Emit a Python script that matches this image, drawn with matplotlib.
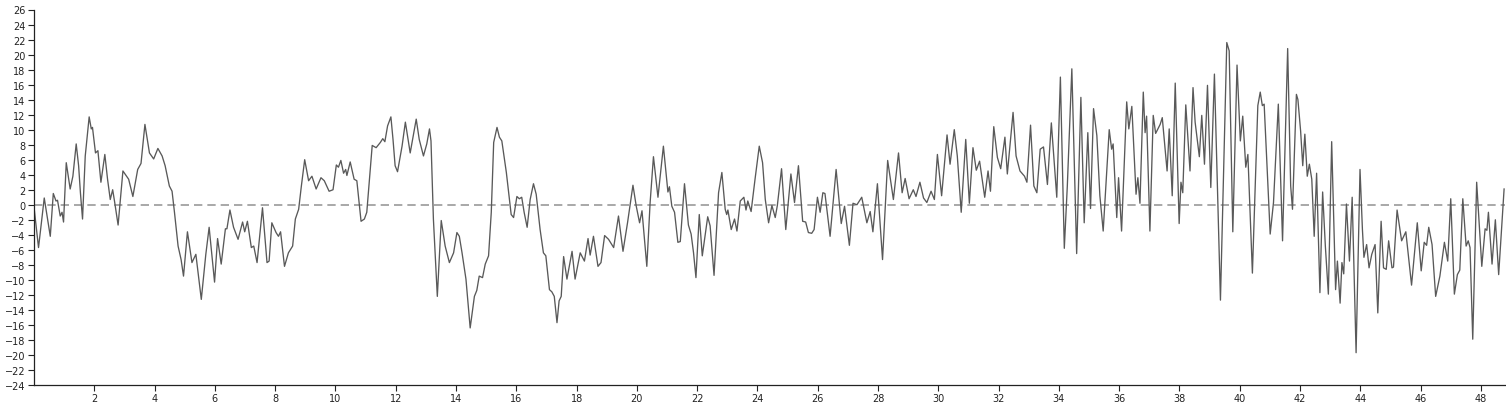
import matplotlib
matplotlib.use("Agg")
import matplotlib.pyplot as plt

# values (peaks / troughs of the trace)
xs = [0.00, 0.15, 0.34, 0.54, 0.64, 0.73, 0.78, 0.87, 0.93, 0.98,
      1.07, 1.20, 1.29, 1.40, 1.48, 1.54, 1.61, 1.70, 1.83, 1.90, 1.94,
      2.04, 2.12, 2.22, 2.35, 2.44, 2.53, 2.61, 2.67, 2.79, 2.95,
      3.14, 3.28, 3.44, 3.55, 3.68, 3.83, 3.97, 4.11, 4.25, 4.35, 4.49, 4.58, 4.66, 4.78, 4.88, 4.96,
      5.09, 5.24, 5.37, 5.55, 5.70, 5.81, 5.99, 6.09, 6.21, 6.35, 6.40, 6.50, 6.62, 6.77, 6.92, 6.99,
      7.08, 7.21, 7.29, 7.40, 7.58, 7.73, 7.80, 7.89, 8.03, 8.11, 8.18, 8.31, 8.44, 8.58, 8.67, 8.78, 8.87, 8.98,
      9.11, 9.22, 9.36, 9.52, 9.63, 9.79, 9.92, 10.03, 10.10, 10.18, 10.27, 10.34, 10.38, 10.49, 10.62, 10.71, 10.85, 10.96,
      11.04, 11.22, 11.35, 11.49, 11.57, 11.64, 11.73, 11.84, 11.91, 11.98, 12.06, 12.21, 12.32, 12.48, 12.68, 12.78, 12.92,
      13.03, 13.12, 13.17, 13.25, 13.38, 13.51, 13.64, 13.78, 13.92, 14.03, 14.11, 14.20, 14.33, 14.47, 14.61, 14.69, 14.77, 14.88, 14.97,
      15.08, 15.17, 15.25, 15.36, 15.44, 15.52, 15.67, 15.76, 15.83, 15.91, 16.02, 16.10, 16.18, 16.26, 16.36, 16.46, 16.57, 16.66, 16.79, 16.90, 16.98,
      17.10, 17.18, 17.26, 17.35, 17.42, 17.49, 17.57, 17.68, 17.85, 17.95, 18.12, 18.26, 18.38, 18.45, 18.56, 18.71, 18.81, 18.93,
      19.06, 19.23, 19.39, 19.54, 19.69, 19.87, 19.98, 20.09, 20.17, 20.33, 20.44, 20.55, 20.70, 20.88,
      21.03, 21.08, 21.16, 21.25, 21.36, 21.44, 21.58, 21.71, 21.80, 21.88, 21.96, 22.07, 22.17, 22.35, 22.43, 22.56, 22.71, 22.82, 22.93, 22.98,
      23.02, 23.13, 23.24, 23.32, 23.43, 23.55, 23.62, 23.68, 23.79, 23.92, 24.06, 24.17, 24.26, 24.37, 24.48, 24.59, 24.66, 24.80, 24.94,
      25.11, 25.23, 25.36, 25.50, 25.60, 25.69, 25.80, 25.88, 25.99, 26.08, 26.17, 26.24, 26.41, 26.61, 26.78, 26.89,
      27.05, 27.17, 27.30, 27.46, 27.63, 27.74, 27.83, 27.98, 28.15, 28.32, 28.51, 28.68, 28.80, 28.90,
      29.03, 29.17, 29.26, 29.39, 29.51, 29.62, 29.76, 29.87, 29.97, 30.11, 30.29, 30.39, 30.53, 30.63, 30.76, 30.91,
      31.03, 31.15, 31.26, 31.37, 31.54, 31.65, 31.73, 31.84, 31.96, 32.07, 32.21, 32.29, 32.48, 32.58, 32.71, 32.86, 32.94,
      33.06, 33.17, 33.27, 33.38, 33.49, 33.62, 33.75, 33.93, 34.05, 34.18, 34.28, 34.43, 34.59, 34.73, 34.84, 34.96,
      35.05, 35.15, 35.26, 35.36, 35.47, 35.67, 35.75, 35.80, 35.92, 35.98, 36.08, 36.25, 36.32, 36.42, 36.56, 36.62, 36.69, 36.80, 36.86, 36.91,
      37.02, 37.13, 37.21, 37.36, 37.43, 37.59, 37.66, 37.76, 37.86, 37.99, 38.05, 38.11, 38.21, 38.35, 38.45, 38.52, 38.66, 38.74, 38.83, 38.93,
      39.04, 39.16, 39.36, 39.57, 39.65, 39.77, 39.91, 40.02, 40.10, 40.20, 40.27, 40.42, 40.60, 40.68, 40.75, 40.81,
      41.01, 41.12, 41.28, 41.42, 41.59, 41.69, 41.75, 41.88, 41.93, 42.02, 42.09, 42.16, 42.24, 42.31, 42.39, 42.47, 42.55, 42.66, 42.75, 42.84, 42.94,
      43.05, 43.18, 43.24, 43.33, 43.39, 43.45, 43.54, 43.64, 43.73, 43.86, 43.99, 44.07, 44.12, 44.21, 44.29, 44.38, 44.49, 44.58, 44.69, 44.77, 44.86, 44.94,
      45.05, 45.10, 45.22, 45.37, 45.51, 45.70, 45.89, 46.02, 46.12, 46.20, 46.27, 46.38, 46.50, 46.64, 46.79, 46.90,
      47.00, 47.12, 47.22, 47.30, 47.40, 47.51, 47.58, 47.64, 47.73, 47.86, 48.03, 48.14, 48.20, 48.25, 48.37, 48.48, 48.59, 48.77]

ys = [-0.3, -5.7, 0.9, -4.2, 1.5, 0.5, 0.6, -1.5, -1.0, -2.3,
      5.6, 2.1, 3.8, 8.1, 5.2, 1.6, -1.9, 6.5, 11.7, 10.1, 10.3,
      6.9, 7.2, 3.0, 6.7, 3.4, 0.7, 2.0, 0.5, -2.7, 4.5,
      3.4, 1.1, 4.7, 5.5, 10.7, 6.9, 6.1, 7.5, 6.5, 5.2, 2.5, 1.8, -1.0, -5.5, -7.3, -9.5,
      -3.6, -7.7, -6.6, -12.6, -6.6, -3.0, -10.3, -4.5, -7.9, -3.2, -3.2, -0.7, -3.0, -4.6, -2.3, -3.6,
      -2.2, -5.7, -5.5, -7.7, -0.4, -7.7, -7.5, -2.4, -3.7, -4.2, -3.6, -8.2, -6.4, -5.5, -1.9, -0.6, 2.5, 6.0,
      3.2, 3.8, 2.1, 3.6, 3.2, 1.8, 2.0, 5.3, 5.0, 5.9, 4.2, 4.7, 3.9, 5.7, 3.4, 3.2, -2.2, -1.9,
      -1.0, 7.9, 7.6, 8.3, 8.8, 8.4, 10.5, 11.7, 8.7, 5.2, 4.4, 7.8, 11.0, 6.9, 11.4, 8.7, 6.5,
      8.1, 10.1, 8.5, -1.9, -12.2, -2.1, -5.5, -7.7, -6.4, -3.7, -4.2, -6.4, -9.9, -16.4, -12.2, -11.4, -9.5, -9.7, -7.9,
      -6.8, -1.0, 8.3, 10.3, 9.0, 8.5, 4.3, 1.2, -1.3, -1.7, 1.1, 0.8, 1.0, -1.0, -3.0, 0.7, 2.8, 1.4, -3.3, -6.4, -6.8,
      -11.3, -11.6, -12.2, -15.7, -12.8, -12.2, -6.9, -9.9, -6.2, -9.9, -6.4, -7.5, -4.5, -6.7, -4.2, -8.2, -7.7, -4.1,
      -4.6, -5.7, -1.5, -6.2, -2.4, 2.6, -0.2, -2.4, -0.8, -8.2, 0.3, 6.4, 1.0, 7.8,
      1.7, 2.4, -0.2, -1.0, -5.0, -4.9, 2.8, -2.7, -3.9, -6.4, -9.7, -1.3, -6.8, -1.6, -2.8, -9.4, 1.6, 4.3, -0.6, -1.3,
      -0.7, -3.3, -1.9, -3.5, 0.5, 1.0, -0.7, 0.5, -0.9, 3.4, 7.8, 5.6, 0.7, -2.4, -0.1, -1.7, -0.1, 4.8, -3.3,
      4.1, 0.3, 5.2, -2.2, -2.3, -3.7, -3.8, -3.3, 1.0, -1.0, 1.6, 1.5, -4.2, 4.7, -2.5, -0.2,
      -5.4, 0.2, 0.0, 1.0, -2.4, -0.9, -3.6, 2.8, -7.3, 5.9, 0.7, 6.9, 1.6, 3.5,
      0.8, 2.0, 1.1, 3.0, 0.9, 0.3, 1.8, 0.7, 6.7, 1.2, 9.3, 5.4, 10.0, 6.5, -1.0, 8.7,
      0.2, 7.6, 4.6, 5.8, 1.0, 4.5, 1.8, 10.4, 6.3, 4.8, 9.0, 4.1, 12.3, 6.5, 4.5, 3.8, 3.0,
      10.6, 2.5, 1.6, 7.4, 7.7, 2.7, 10.9, 1.0, 17.0, -5.8, 2.5, 18.1, -6.5, 14.3, -2.4, 9.6,
      -0.5, 12.8, 9.2, 1.2, -3.5, 10.0, 7.4, 8.1, -1.7, 3.6, -3.5, 13.7, 10.1, 13.1, 1.4, 3.6, 0.2, 15.0, 9.6, 11.8,
      -3.5, 11.9, 9.5, 10.7, 11.6, 4.5, 10.1, 1.2, 16.2, -2.5, 3.0, 1.6, 13.3, 4.5, 15.6, 11.0, 6.4, 11.9, 5.4, 15.9,
      2.3, 17.4, -12.7, 21.6, 20.5, -3.6, 18.6, 8.5, 11.8, 5.0, 6.7, -9.1, 13.2, 15.0, 13.2, 13.4,
      -3.9, 0.3, 13.4, -4.8, 20.8, 2.5, -0.6, 14.7, 14.0, 9.8, 5.2, 9.4, 3.8, 5.4, 3.4, -4.2, 4.2, -11.7, 1.7, -5.5, -11.9,
      8.4, -11.3, -7.5, -13.1, -7.7, -9.2, 0.1, -7.5, 1.0, -19.7, 4.7, -3.3, -7.0, -5.3, -8.4, -6.6, -5.3, -14.4, -2.2, -8.4, -8.6, -4.8,
      -8.4, -8.3, -0.7, -4.8, -3.6, -10.7, -2.4, -8.8, -5.0, -5.4, -3.0, -5.3, -12.2, -9.5, -5.0, -7.5,
      0.8, -11.9, -9.3, -8.7, 0.8, -5.5, -4.8, -5.7, -17.9, 3.0, -8.2, -3.2, -3.4, -1.0, -7.9, -2.0, -9.3, 2.1]

yticks = list(range(-24, 28, 2))
xticks = list(range(2, 50, 2))

fig = plt.figure(figsize=(15.06, 4.10), dpi=100)
ax = fig.add_axes([34 / 1506, 24 / 410, 1471 / 1506, 375.5 / 410])

ax.axhline(0, color="#9a9a9a", lw=1.2, ls=(0, (5, 3)))
ax.plot(xs, ys, color="#595959", lw=0.95)

ax.set_xlim(0, 48.8)
ax.set_ylim(-24, 26)
ax.set_xticks(xticks)
ax.set_yticks(yticks)
ax.tick_params(labelsize=7, colors="#222222", length=4, width=0.8, pad=2)

for side in ["top", "right"]:
    ax.spines[side].set_visible(False)
for side in ["left", "bottom"]:
    ax.spines[side].set_color("#222222")
    ax.spines[side].set_linewidth(0.9)

fig.savefig("out.png", dpi=100)
